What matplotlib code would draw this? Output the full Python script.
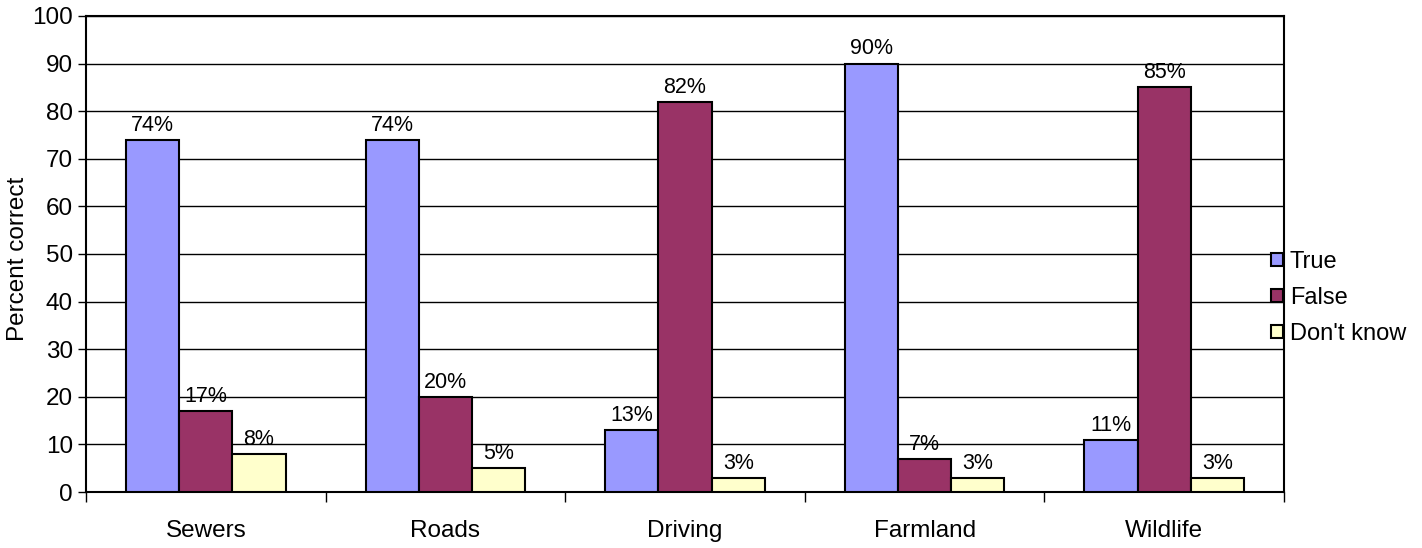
import numpy as np
import matplotlib
matplotlib.use('Agg')
import matplotlib.pyplot as plt

# данные
categories = ['Sewers', 'Roads', 'Driving', 'Farmland', 'Wildlife']
series_names = ['True', 'False', "Don't know"]
true_vals = [74, 74, 13, 90, 11]
false_vals = [17, 20, 82, 7, 85]
dk_vals = [8, 5, 3, 3, 3]
colors = ['#9999FF', '#993366', '#FFFFCC']

plt.rcParams['font.family'] = ['Liberation Sans', 'DejaVu Sans']

fig = plt.figure(figsize=(14.22, 5.48), dpi=100)
ax = fig.add_axes([0.0605, 0.102, 0.8425, 0.869])

x = np.arange(len(categories))
w = 0.222
for i, (vals, name) in enumerate(zip([true_vals, false_vals, dk_vals], series_names)):
    pos = x + (i - 1) * w
    bars = ax.bar(pos, vals, width=w, color=colors[i], edgecolor='black',
                  linewidth=1.5, label=name, zorder=3)
    for b, v in zip(bars, vals):
        ax.annotate(f'{v}%', (b.get_x() + b.get_width() / 2, v),
                    xytext=(0, 10.5), textcoords='offset points',
                    ha='center', va='center', fontsize=15.5)

ax.set_xlim(-0.5, len(categories) - 0.5)
ax.set_ylim(0, 100)
ax.set_yticks(range(0, 101, 10))
ax.tick_params(axis='y', labelsize=17.5, length=6, width=1, direction='out')
ax.set_xticks(np.arange(-0.5, len(categories), 1.0))
ax.set_xticks(x, minor=True)
ax.set_xticklabels([])
ax.set_xticklabels(categories, minor=True)
ax.tick_params(axis='x', which='major', length=7, width=1, direction='out')
ax.tick_params(axis='x', which='minor', length=0, labelsize=17.5, pad=20)
ax.set_ylabel('Percent correct', fontsize=17.5, va='center')
ax.yaxis.set_label_coords(-0.057, 0.49)
ax.grid(axis='y', color='black', linewidth=1, zorder=0)
for s in ax.spines.values():
    s.set_linewidth(1.5)

ax.legend(loc='center left', bbox_to_anchor=(0.981, 0.408), frameon=False,
          fontsize=17, handlelength=0.5, handleheight=0.5, handletextpad=0.3,
          labelspacing=0.6, borderaxespad=0)

fig.savefig('out.png', dpi=100)
